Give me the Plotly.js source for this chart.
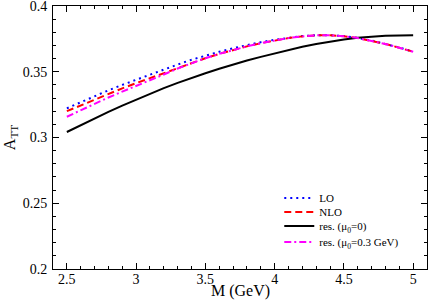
<!DOCTYPE html>
<html>
<head>
<meta charset="utf-8">
<script src="https://cdn.plot.ly/plotly-3.0.1.min.js"></script>
<style>html,body{margin:0;padding:0;background:#fff;}#chart{width:429px;height:303px;}</style>
</head>
<body>
<div id="chart"></div>
<script>
const M = [2.5,2.6,2.7,2.8,2.9,3.0,3.1,3.2,3.3,3.4,3.5,3.6,3.7,3.8,3.9,4.0,4.1,4.2,4.3,4.4,4.5,4.6,4.7,4.8,4.9,5.0];
const LO = [0.3222,0.3269,0.3315,0.3359,0.3400,0.3440,0.3479,0.3517,0.3555,0.3591,0.3623,0.3652,0.3679,0.3703,0.3725,0.3743,0.3759,0.3771,0.3778,0.3778,0.3771,0.3757,0.3737,0.3712,0.3684,0.3653];
const NLO = [0.3200,0.3245,0.3290,0.3333,0.3374,0.3413,0.3451,0.3488,0.3530,0.3568,0.3603,0.3636,0.3666,0.3693,0.3717,0.3738,0.3756,0.3769,0.3777,0.3777,0.3770,0.3756,0.3736,0.3711,0.3683,0.3652];
const RES0 = [0.3042,0.3094,0.3145,0.3195,0.3243,0.3289,0.3333,0.3375,0.3415,0.3453,0.3489,0.3523,0.3555,0.3585,0.3613,0.3639,0.3663,0.3690,0.3711,0.3729,0.3745,0.3758,0.3767,0.3773,0.3776,0.3778];
const RES03 = [0.3158,0.3208,0.3257,0.3304,0.3349,0.3391,0.3436,0.3479,0.3525,0.3566,0.3603,0.3636,0.3666,0.3693,0.3717,0.3738,0.3756,0.3769,0.3777,0.3777,0.3770,0.3756,0.3736,0.3711,0.3683,0.3652];
const names = ['LO','NLO','res. (μ<sub>0</sub>=0)','res. (μ<sub>0</sub>=0.3 GeV)'];
const yTickVals = [0.2,0.25,0.3,0.35,0.4];
const yTickText = ['0.2','0.25','0.3','0.35','0.4'];
const xTickVals = [2.5,3,3.5,4,4.5,5];
const xTickText = ['2.5','3','3.5','4','4.5','5'];
const xTitle = 'M (GeV)';
const yTitle = 'A<sub>TT</sub>';

const font = 'Liberation Serif';
const traces = [
  {x:M, y:LO, name:names[0], legend:'legend', mode:'lines', line:{color:'#0000ff', width:2, dash:'2px,4px'}},
  {x:M, y:NLO, name:names[1], legend:'legend2', mode:'lines', line:{color:'#ff0000', width:2, dash:'7px,4px'}},
  {x:M, y:RES0, name:names[2], legend:'legend3', mode:'lines', line:{color:'#000000', width:2}},
  {x:M, y:RES03, name:names[3], legend:'legend4', mode:'lines', line:{color:'#ff00ff', width:2, dash:'7px,3px,2px,3px'}}
];
const axisCommon = {
  showline:true, linecolor:'#000', linewidth:1, mirror:'ticks', ticks:'inside', ticklen:6, tickcolor:'#000',
  showgrid:false, zeroline:false, tickfont:{family:font, size:14, color:'#000'}, tickmode:'array',
  automargin:false, ticklabeloverflow:'allow'
};
function leg(yc){
  return {x:0.605, y:yc, xanchor:'left', yanchor:'middle', bgcolor:'rgba(0,0,0,0)',
          font:{family:font, size:11, color:'#000'}, itemwidth:30};
}
const layout = {
  width:429, height:303,
  margin:{l:53, r:2, t:6, b:34},
  paper_bgcolor:'#fff', plot_bgcolor:'#fff',
  font:{family:font, color:'#000'},
  showlegend:true,
  legend:leg(0.270), legend2:leg(0.2167), legend3:leg(0.1635), legend4:leg(0.1027),
  xaxis:Object.assign({}, axisCommon, {
    range:[2.4,5.1], tickvals:xTickVals, ticktext:xTickText, ticklabelstandoff:-3,
    minor:{dtick:0.1, tick0:2.5, ticks:'inside', ticklen:3, tickcolor:'#000'}
  }),
  yaxis:Object.assign({}, axisCommon, {
    range:[0.2,0.4], tickvals:yTickVals, ticktext:yTickText, ticklabelstandoff:2,
    minor:{dtick:0.01, tick0:0.2, ticks:'inside', ticklen:3, tickcolor:'#000'},
    title:{text:yTitle, font:{family:font, size:16, color:'#000'}, standoff:3}
  }),
  annotations:[
    {text:xTitle, xref:'paper', yref:'paper', x:0.5, y:-0.0837, xanchor:'center', yanchor:'middle',
     showarrow:false, font:{family:font, size:16, color:'#000'}}
  ]
};
Plotly.newPlot('chart', traces, layout, {staticPlot:true, displayModeBar:false});
</script>
</body>
</html>
